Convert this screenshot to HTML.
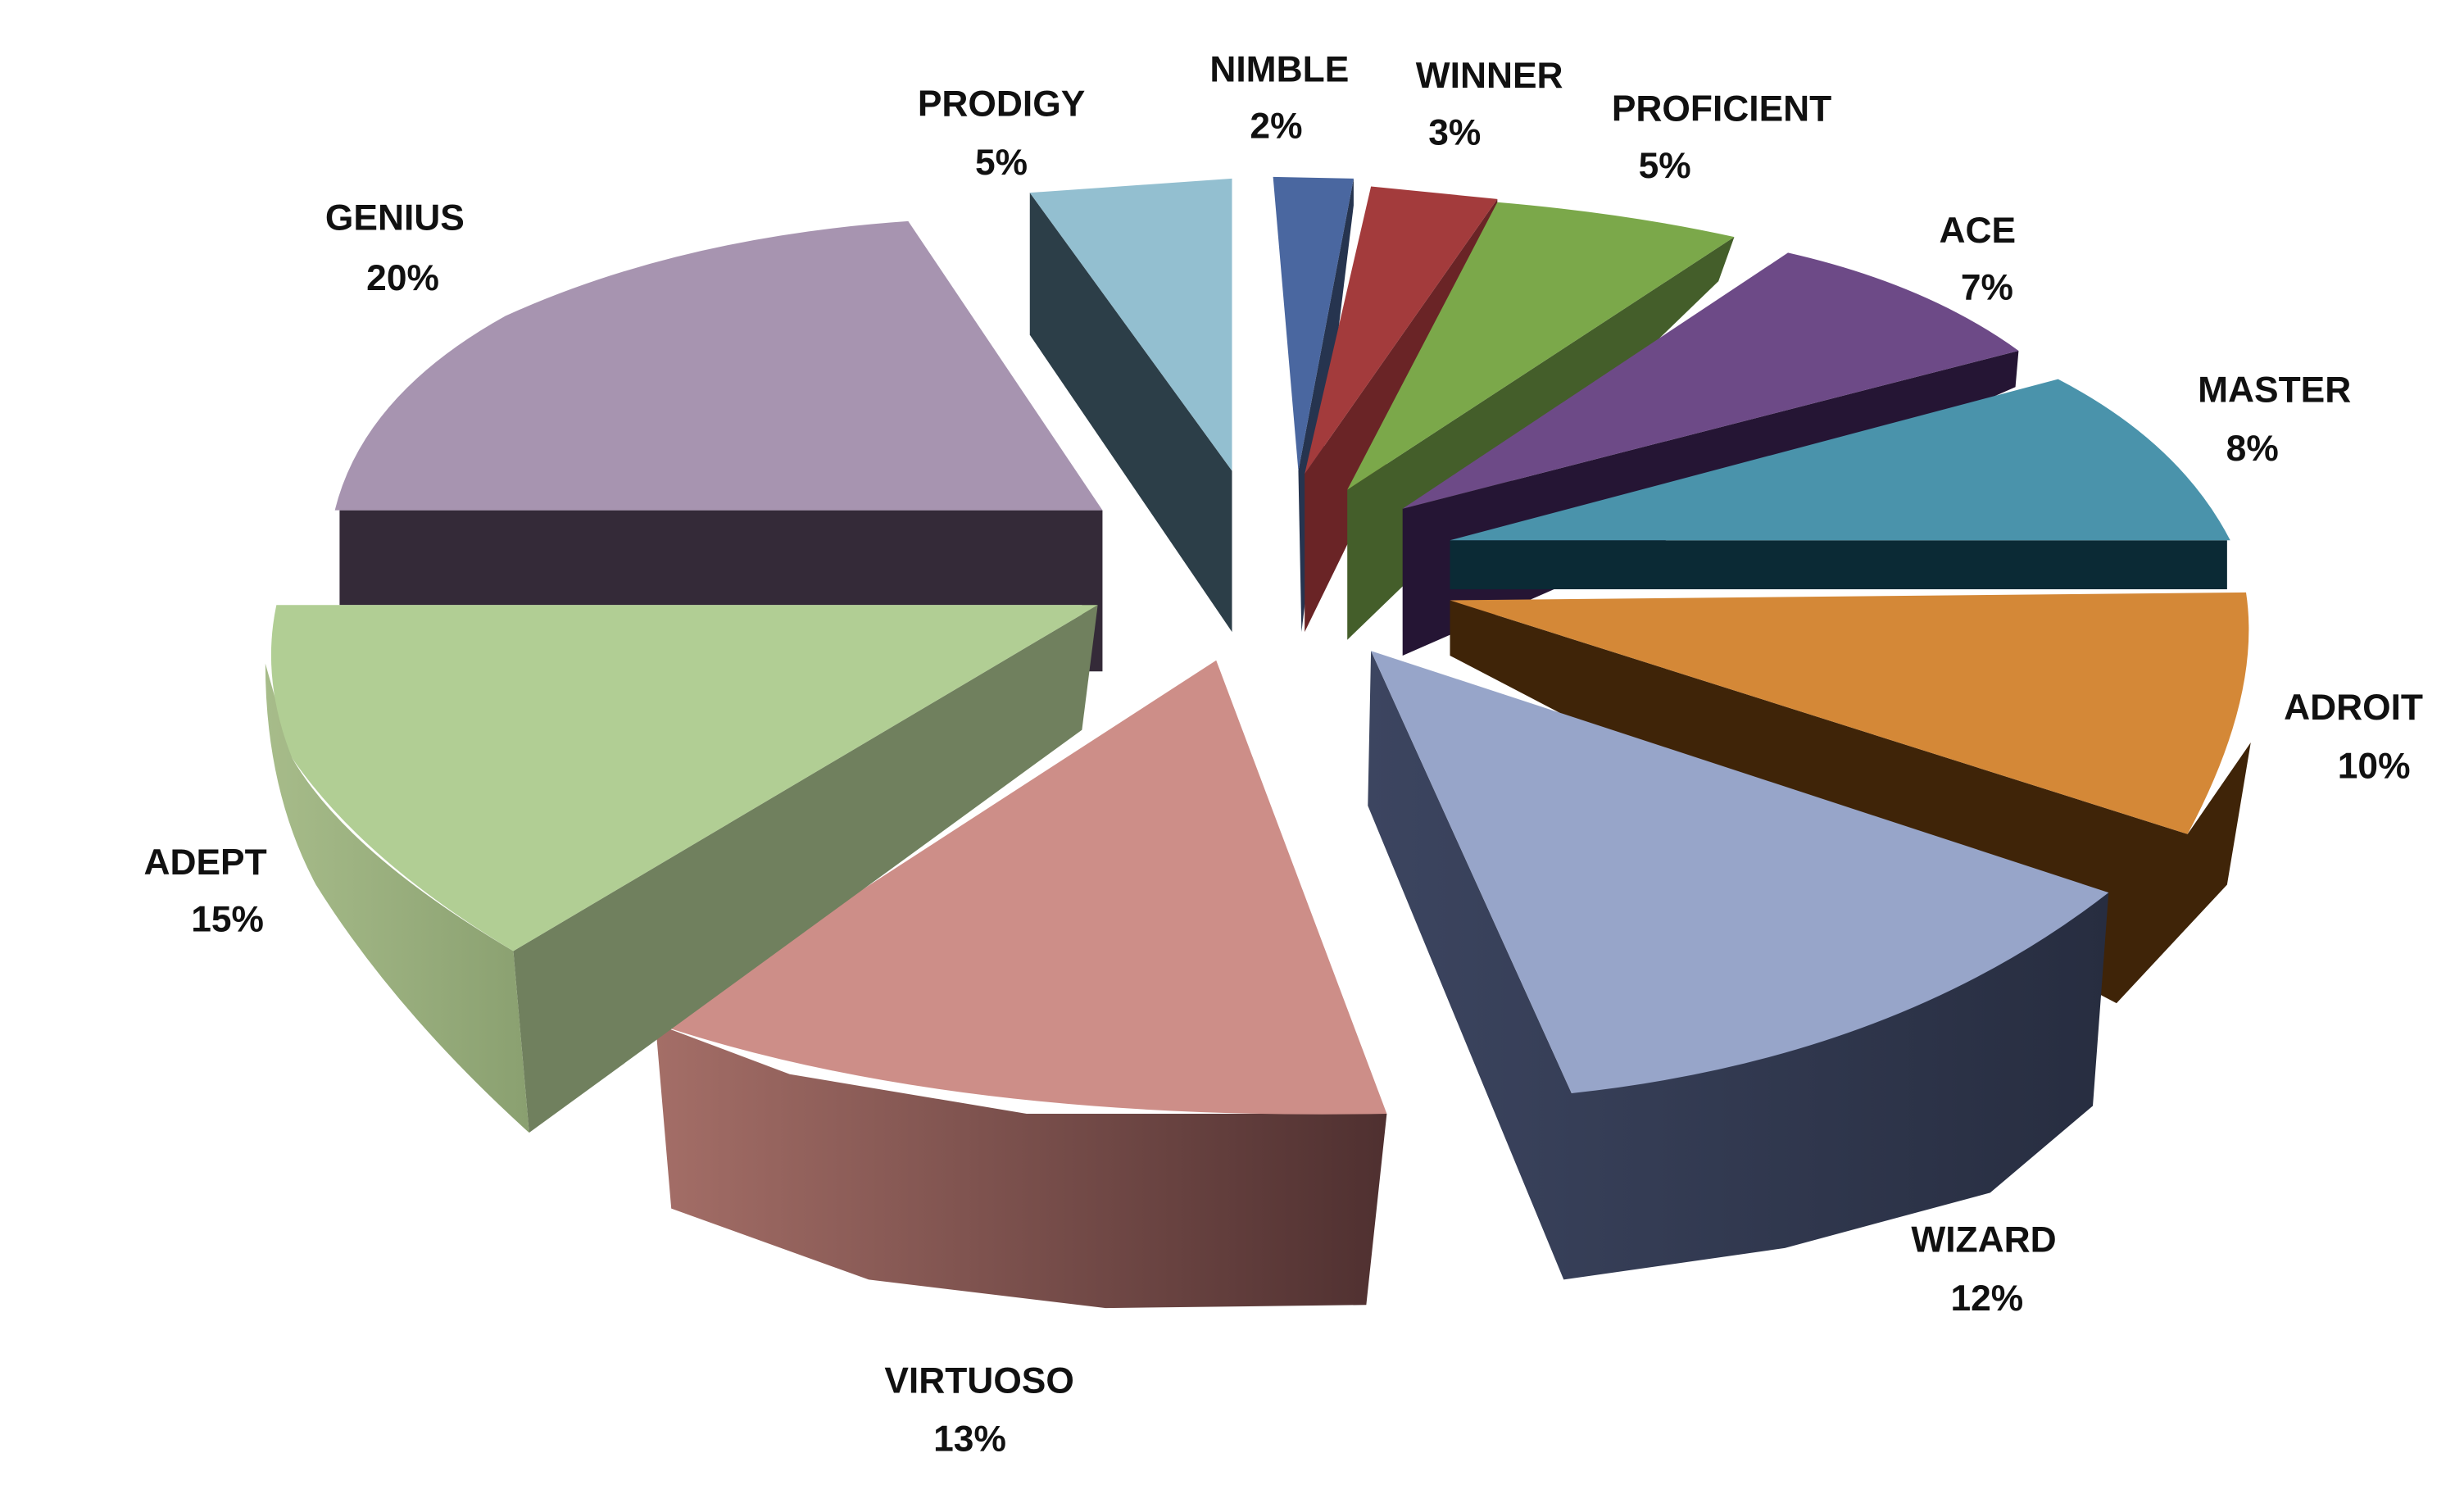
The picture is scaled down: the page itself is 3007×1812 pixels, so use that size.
<!DOCTYPE html>
<html><head><meta charset="utf-8"><style>html,body{margin:0;padding:0;background:#fff}svg{display:block}</style></head>
<body>
<svg width="3007" height="1812" viewBox="0 0 1560 940" preserveAspectRatio="none" xmlns="http://www.w3.org/2000/svg">
<defs>
<linearGradient id="vg" x1="0" x2="1" y1="0" y2="0"><stop offset="0" stop-color="#A46E67"/><stop offset="1" stop-color="#4F3030"/></linearGradient>
<linearGradient id="wg" x1="0" x2="1" y1="0" y2="0"><stop offset="0" stop-color="#3C4560"/><stop offset="1" stop-color="#272D40"/></linearGradient>
<linearGradient id="ag" x1="0" x2="1" y1="0" y2="0"><stop offset="0" stop-color="#A7BC8A"/><stop offset="1" stop-color="#8AA070"/></linearGradient>
</defs>
<rect width="1560" height="940" fill="#fff"/>
<!-- GENIUS -->
<polygon points="215,323 698,323 698,425 685,425 685,383 215,383" fill="#342A38"/>
<path d="M212,323 Q230,250 320,200 Q430,150 575,140 L698,323 Z" fill="#A794B0"/>
<!-- PRODIGY -->
<polygon points="652,122 652,212 780,400 780,298" fill="#2C3E48"/>
<polygon points="652,122 780,113 780,298" fill="#93BFD0"/>
<!-- NIMBLE -->
<polygon points="822,298 857,113 857,130 824,400" fill="#26344F"/>
<polygon points="806,112 857,113 822,298" fill="#4A67A0"/>
<!-- WINNER -->
<polygon points="948,126 948,150 826,400 826,300" fill="#6A2426"/>
<polygon points="868,118 948,126 826,300" fill="#A33B3C"/>
<!-- PROFICIENT -->
<polygon points="1098,150 1088,178 853,405 853,310" fill="#445E2A"/>
<path d="M948,128 Q1030,135 1098,150 L853,310 Z" fill="#7BA84A"/>
<!-- ACE -->
<polygon points="1278,222 1276,245 888,415 888,322" fill="#251534"/>
<path d="M1132,160 Q1220,180 1278,222 L888,322 Z" fill="#6D4A87"/>
<!-- MASTER -->
<rect x="918" y="342" width="492" height="31" fill="#0B2A35"/>
<path d="M918,342 L1303,240 Q1380,280 1412,342 Z" fill="#4A93AB"/>
<!-- ADROIT -->
<polygon points="918,380 918,415 1340,635 1410,560 1425,470 1385,528" fill="#3F2408"/>
<path d="M918,380 L1422,375 Q1432,440 1385,528 Z" fill="#D48837"/>
<!-- WIZARD -->
<polygon points="868,412 866,510 990,810 1130,790 1260,755 1325,700 1335,565 995,692" fill="url(#wg)"/>
<path d="M868,412 L1335,565 Q1200,670 995,692 Z" fill="#97A5C9"/>
<!-- VIRTUOSO -->
<polygon points="415,648 425,765 550,810 700,828 865,826 878,705 650,705 500,680" fill="url(#vg)"/>
<path d="M770,418 L878,705 Q600,710 415,648 Z" fill="#CD8E88"/>
<!-- ADEPT -->
<polygon points="695,383 685,462 335,717 325,602" fill="#70805E"/>
<path d="M168,420 Q168,500 200,560 Q250,640 335,717 L325,602 Q220,540 185,480 Z" fill="url(#ag)"/>
<path d="M175,383 L695,383 L325,602 Q230,545 185,480 Q165,430 175,383 Z" fill="#B1CE94"/>
<g font-family="Liberation Sans, sans-serif" font-weight="bold" font-size="23" fill="#111" text-anchor="middle" dominant-baseline="central">
<text x="634" y="66">PRODIGY</text><text x="634" y="103">5%</text>
<text x="810" y="44">NIMBLE</text><text x="808" y="80">2%</text>
<text x="943" y="48">WINNER</text><text x="921" y="84">3%</text>
<text x="1090" y="69">PROFICIENT</text><text x="1054" y="105">5%</text>
<text x="1252" y="146">ACE</text><text x="1258" y="182">7%</text>
<text x="1440" y="247">MASTER</text><text x="1426" y="284">8%</text>
<text x="1490" y="448">ADROIT</text><text x="1503" y="485">10%</text>
<text x="1256" y="785">WIZARD</text><text x="1258" y="822">12%</text>
<text x="620" y="874">VIRTUOSO</text><text x="614" y="911">13%</text>
<text x="130" y="546">ADEPT</text><text x="144" y="582">15%</text>
<text x="250" y="138">GENIUS</text><text x="255" y="176">20%</text>
</g>
</svg>
</body></html>
